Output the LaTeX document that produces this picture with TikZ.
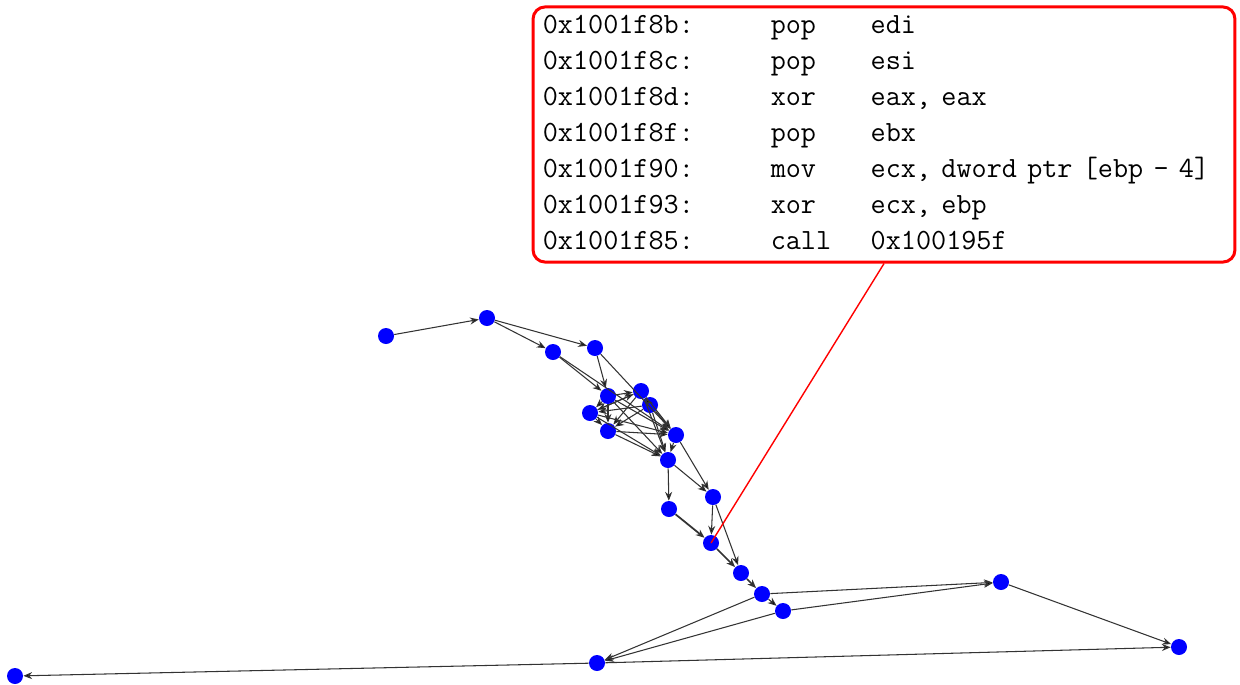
\documentclass[tikz,border=0pt]{standalone}
\usepackage{tikz}
\usetikzlibrary{arrows.meta}
\tikzset{
  block/.style={circle,fill=blue,inner sep=0pt,minimum size=0.32cm},
  flow/.style={->,draw=black!80,line width=0.6pt},
  codebox/.style={draw=red,line width=1.7pt,rounded corners=0.24cm,fill=white,
    minimum width=14.04cm,minimum height=5.1cm,inner sep=0.03cm,
    font=\ttfamily\fontsize{16.7}{20.5}\selectfont},
  >={Stealth[length=5pt,width=4pt]},
}

\begin{document}
\begin{tikzpicture}[x=0.02cm,y=-0.02cm]
  \useasboundingbox (0,0) rectangle (1240,684);
  % blocks of the graph
  \node[block] (n1)  at (386,336) {};
  \node[block] (n2)  at (487,318) {};
  \node[block] (n3)  at (553,352) {};
  \node[block] (n4)  at (595,348) {};
  \node[block] (n5)  at (608,396) {};
  \node[block] (n6)  at (641,391) {};
  \node[block] (n7)  at (590,413) {};
  \node[block] (n8)  at (650,405) {};
  \node[block] (n9)  at (608,431) {};
  \node[block] (n10) at (676,435) {};
  \node[block] (n11) at (668,460) {};
  \node[block] (n12) at (713,497) {};
  \node[block] (n13) at (669,509) {};
  \node[block] (n14) at (711,543) {};
  \node[block] (n15) at (741,573) {};
  \node[block] (n16) at (762,594) {};
  \node[block] (n17) at (783,611) {};
  \node[block] (n18) at (1001,582) {};
  \node[block] (n19) at (1179,647) {};
  \node[block] (n20) at (597,663) {};
  \node[block] (n21) at (15,676) {};
  \path[flow]
    (n1) edge (n2)
    (n2) edge (n3)
    (n2) edge (n4)
    (n3) edge (n5)
    (n3) edge (n10)
    (n4) edge (n5)
    (n4) edge (n10)
    (n5) edge (n6)
    (n5) edge (n7)
    (n5) edge (n9)
    (n5) edge (n10)
    (n5) edge (n11)
    (n6) edge (n7)
    (n6) edge (n8)
    (n6) edge (n9)
    (n6) edge (n10)
    (n6) edge (n11)
    (n7) edge (n6)
    (n7) edge (n9)
    (n7) edge (n10)
    (n7) edge (n11)
    (n8) edge (n7)
    (n8) edge (n9)
    (n8) edge (n10)
    (n8) edge (n11)
    (n9) edge (n10)
    (n9) edge (n11)
    (n10) edge (n11)
    (n10) edge (n12)
    (n11) edge (n13)
    (n11) edge (n12)
    (n12) edge (n14)
    (n12) edge (n15)
    (n13) edge[line width=1pt] (n14)
    (n14) edge[line width=1pt] (n15)
    (n15) edge[line width=1pt] (n16)
    (n16) edge (n17)
    (n16) edge (n18)
    (n17) edge (n18)
    (n16) edge (n20)
    (n17) edge (n20)
    (n18) edge (n19)
    (n20) edge (n19)
    (n20) edge (n21);
  % callout with the instructions
  \node[codebox] (code) at (884,134.5) {%
    \fontdimen2\font=0.35em
    \kern-0.16cm
    \begin{tabular}{@{}p{4.56cm}@{}p{2cm}@{}l@{}}
      0x1001f8b: & pop  & edi \\
      0x1001f8c: & pop  & esi \\
      0x1001f8d: & xor  & eax, eax \\
      0x1001f8f: & pop  & ebx \\
      0x1001f90: & mov  & ecx, dword ptr [ebp - 4] \\
      0x1001f93: & xor  & ecx, ebp \\
      0x1001f85: & call & 0x100195f
    \end{tabular}%
    \kern0.16cm};
  \draw[red,line width=0.8pt] (n14.center) -- (code.south);
\end{tikzpicture}
\end{document}
